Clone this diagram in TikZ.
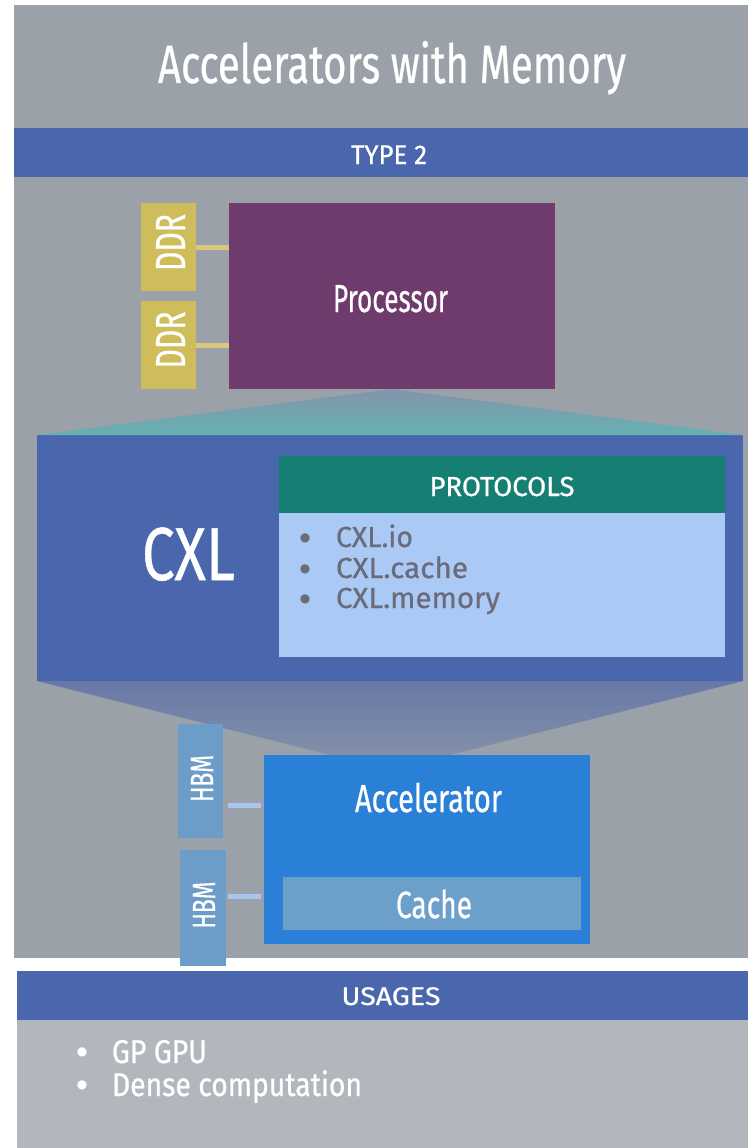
\documentclass[tikz,border=0pt]{standalone}
\usepackage{fontspec}
\setmainfont{Fira Sans}[FakeBold=0.7]
\newfontfamily\symf{DejaVu Sans}
\usepackage{graphicx}
\newcommand{\fw}[2]{\resizebox{#1}{\height}{#2}}
\newcommand{\fs}[1]{\fontsize{#1}{#1}\selectfont}
\newcommand{\bulat}[2]{\llap{\makebox[#1][c]{\raisebox{#2}{\symf\fontsize{12}{12}\selectfont ●}}}}
\definecolor{panelC}{HTML}{9BA1A9}
\definecolor{barC}{HTML}{4A66AC}
\definecolor{ddrC}{HTML}{CFBD5C}
\definecolor{ddrLine}{HTML}{D8C97C}
\definecolor{procC}{HTML}{6F3A6C}
\definecolor{headC}{HTML}{167F74}
\definecolor{bodyC}{HTML}{ABC9F5}
\definecolor{listC}{HTML}{6A6B7B}
\definecolor{accC}{HTML}{2A7FD6}
\definecolor{cacheC}{HTML}{6D9FCB}
\definecolor{hbmC}{HTML}{6B9DC8}
\definecolor{hbmLine}{HTML}{A9C6F0}
\definecolor{usageC}{HTML}{B2B6BD}
\definecolor{triTop}{HTML}{8294A9}
\definecolor{triBot}{HTML}{66B2B3}
\definecolor{lowTop}{HTML}{6778A8}
\definecolor{lowBot}{HTML}{8290A8}
\begin{document}
\begin{tikzpicture}[x=1pt,y=-1pt,
  rect/.style={inner sep=0pt, outer sep=0pt, anchor=north west, draw=none},
  txt/.style={inner sep=0pt, outer sep=0pt, anchor=base, text=white},
  itemtxt/.style={inner sep=0pt, outer sep=0pt, anchor=base west},
  ddrwire/.style={draw=ddrLine, line width=5pt},
  hbmwire/.style={draw=hbmLine, line width=5pt}]
\useasboundingbox (0,0) rectangle (748,1148);
\fill[white] (0,0) rectangle (748,1148);
% panel
\node[rect, fill=panelC, minimum width=734pt, minimum height=953pt] (panel) at (14,5) {};
\node[txt, font=\fs{54}] (title) at (392,83) {\fw{468pt}{Accelerators with Memory}};
\node[rect, fill=barC, minimum width=734pt, minimum height=49pt] (typebar) at (14,128) {};
\node[txt, font=\fs{27}] (typet) at (389,164) {\fw{76pt}{TYPE 2}};
% processor and DDR
\node[rect, fill=procC, minimum width=326pt, minimum height=186pt] (proc) at (229,203) {};
\node[rect, fill=barC, minimum width=706pt, minimum height=246pt] (cxl) at (37,435) {};
\shade[top color=triTop, bottom color=triBot] (proc.south) -- (cxl.north east) -- (cxl.north west) -- cycle;
\node[txt, font=\fs{39}] (proct) at (390.5,312) {\fw{115pt}{Processor}};
\node[rect, fill=ddrC, minimum width=55pt, minimum height=88pt] (ddr1) at (141,203) {};
\node[rect, fill=ddrC, minimum width=55pt, minimum height=88pt] (ddr2) at (141,301) {};
\node[txt, font=\fs{42}, rotate=90] (ddrt1) at (185,242.5) {\fw{57pt}{DDR}};
\node[txt, font=\fs{42}, rotate=90] (ddrt2) at (185,340) {\fw{57pt}{DDR}};
\draw[ddrwire] (ddr1.east) -- (ddr1.east -| proc.west);
\draw[ddrwire] (ddr2.east) -- (ddr2.east -| proc.west);
% CXL
\coordinate (lowL) at (330,755);
\coordinate (lowR) at (450,755);
\shade[top color=lowTop, bottom color=lowBot] (cxl.south west) -- (cxl.south east) -- (lowR) -- (lowL) -- cycle;
\node[txt, font=\fs{75}] (cxlt) at (188.5,580) {\fw{93pt}{CXL}};
\node[rect, fill=headC, minimum width=446pt, minimum height=57pt] (protohead) at (279,456) {};
\node[rect, fill=bodyC, minimum width=446pt, minimum height=144pt] (protobody) at (279,513) {};
\node[txt, font=\fs{27.5}] (protot) at (502,496) {\fw{145pt}{PROTOCOLS}};
\node[itemtxt, text=listC, font=\fs{29}] (p1) at (336,547) {\bulat{62pt}{6pt}\fw{77pt}{CXL.io}};
\node[itemtxt, text=listC, font=\fs{29}] (p2) at (336,578) {\bulat{62pt}{6pt}\fw{132pt}{CXL.cache}};
\node[itemtxt, text=listC, font=\fs{29}] (p3) at (336,608) {\bulat{62pt}{6pt}\fw{164pt}{CXL.memory}};
% accelerator
\node[rect, fill=accC, minimum width=326pt, minimum height=189pt] (acc) at (264,755) {};
\node[txt, font=\fs{39}] (acct) at (428.5,812) {\fw{147pt}{Accelerator}};
\node[rect, fill=cacheC, minimum width=298pt, minimum height=53pt] (cache) at (283,877) {};
\node[txt, font=\fs{38}] (cachet) at (434,918) {\fw{76pt}{Cache}};
\node[rect, fill=hbmC, minimum width=45pt, minimum height=114pt] (hbm1) at (178,724) {};
\node[rect, fill=hbmC, minimum width=46pt, minimum height=116pt] (hbm2) at (180,850) {};
\node[txt, font=\fs{32}, rotate=90] (hbmt1) at (213,778.5) {\fw{47pt}{HBM}};
\node[txt, font=\fs{32}, rotate=90] (hbmt2) at (215,905) {\fw{47pt}{HBM}};
\coordinate (h1a) at (228,805);
\coordinate (h1b) at (261,805);
\coordinate (h2a) at (228,896);
\coordinate (h2b) at (261,896);
\draw[hbmwire] (h1a) -- (h1b);
\draw[hbmwire] (h2a) -- (h2b);
% usages
\node[rect, fill=barC, minimum width=731pt, minimum height=49pt] (usagebar) at (17,971) {};
\node[txt, font=\fs{25.5}] (usaget) at (391,1005) {\fw{99pt}{USAGES}};
\node[rect, fill=usageC, minimum width=731pt, minimum height=128pt] (usagebody) at (17,1020) {};
\node[itemtxt, text=white, font=\fs{33}] (u1) at (112,1063) {\bulat{60pt}{7.5pt}\fw{95pt}{GP GPU}};
\node[itemtxt, text=white, font=\fs{33}] (u2) at (112,1096) {\bulat{60pt}{7.5pt}\fw{250pt}{Dense computation}};
\end{tikzpicture}
\end{document}
